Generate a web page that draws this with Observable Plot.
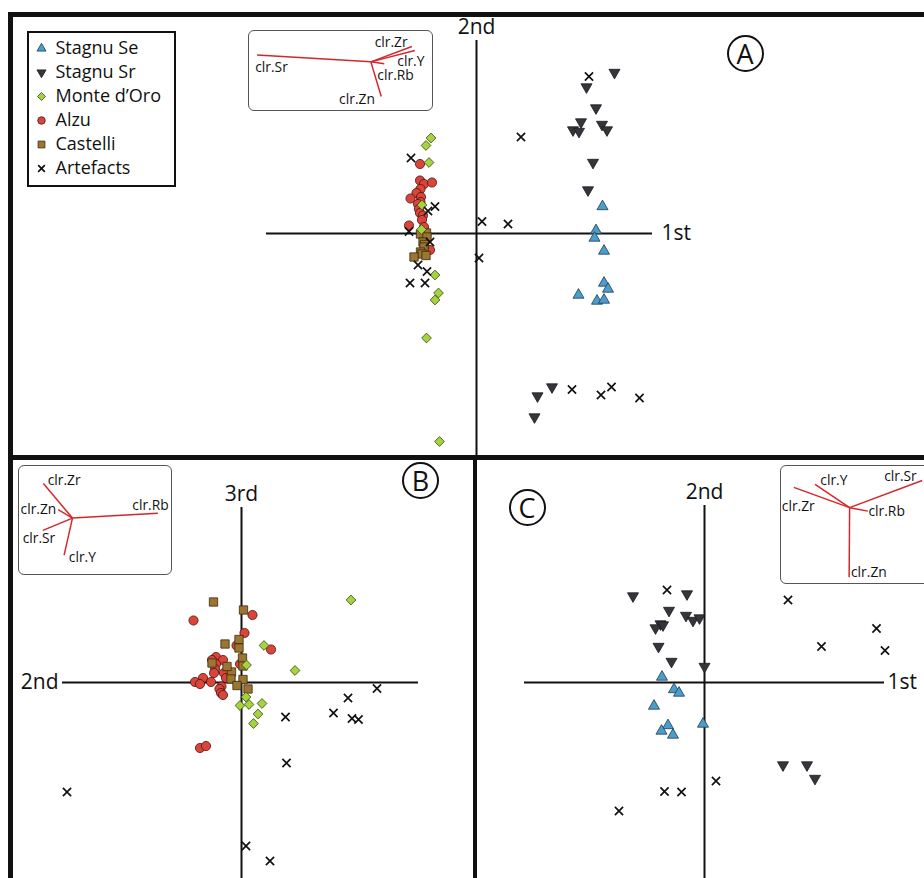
<!DOCTYPE html>
<html><head><meta charset="utf-8">
<script src="https://cdn.jsdelivr.net/npm/d3@7"></script>
<script src="https://cdn.jsdelivr.net/npm/@observablehq/plot@0.6"></script>
<style>
body{margin:0;background:#fff;}
#wrap{position:relative;width:924px;height:878px;overflow:hidden;background:#fff;font-family:"Open Sans",sans-serif;color:#111;}
.bar{position:absolute;background:#111;}
.circ{position:absolute;border:2px solid #111;border-radius:50%;box-sizing:border-box;text-align:center;font-size:27px;color:#111;}
.inset{position:absolute;border:1.3px solid #555;border-radius:6px;box-sizing:border-box;background:#fff;overflow:hidden;}
.legend{position:absolute;border:2px solid #111;box-sizing:border-box;background:#fff;}
svg{display:block;}
</style></head><body><div id="wrap"></div>
<script>
// ---------- data (component scores) ----------
const groupNames = ["Stagnu Se", "Stagnu Sr", "Monte d\u2019Oro", "Alzu", "Castelli", "Artefacts"];

// Panel A : 1st vs 2nd
const A_se = [[2.52,0.54],[2.39,0.06],[2.36,-0.09],[2.55,-0.35],[2.55,-0.99],[2.63,-1.11],[2.04,-1.23],[2.41,-1.35],[2.55,-1.33]];
const A_sr = [[2.76,3.22],[2.20,2.93],[2.39,2.51],[2.09,2.23],[1.93,2.07],[2.05,2.04],[2.51,2.18],[2.61,2.07],[2.33,1.42],[2.23,0.87],[1.51,-3.07],[1.22,-3.25],[1.16,-3.67]];
const A_monte = [[-0.91,1.91],[-1.01,1.76],[-0.95,1.42],[-1.09,0.57],[-1.10,0.08],[-0.83,-0.83],[-0.76,-1.19],[-0.83,-1.33],[-1.00,-2.09],[-0.74,-4.16]];
const A_alzu = [[-1.13,1.39],[-1.13,1.06],[-1.05,0.99],[-0.89,1.02],[-1.12,0.89],[-1.20,0.81],[-1.11,0.73],[-1.32,0.70],[-1.12,0.63],[-1.17,0.59],[-1.15,0.49],[-1.13,0.41],[-1.07,0.36],[-1.09,0.27],[-1.35,0.16],[-1.05,0.13],[-0.93,-0.33]];
const A_castelli = [[-1.00,0.01],[-1.12,-0.01],[-0.99,-0.07],[-1.07,-0.17],[-1.04,-0.22],[-1.05,-0.27],[-1.12,-0.37],[-1.09,-0.41],[-1.01,-0.44],[-1.25,-0.47]];
const A_art = [[-1.31,1.51],[-0.83,0.54],[-0.97,0.45],[-1.35,0.04],[-0.93,-0.17],[-1.17,-0.63],[-0.99,-0.76],[-1.33,-0.99],[-1.03,-0.99],[0.11,0.24],[0.05,-0.49],[0.89,1.93],[0.63,0.19],[2.25,3.14],[1.91,-3.12],[2.49,-3.23],[2.70,-3.07],[3.26,-3.29]];

// Panel B : 2nd vs 3rd
const B_monte = [[2.19,1.65],[0.45,0.74],[1.07,0.24],[0.10,0.35],[0.09,-0.29],[-0.03,-0.46],[0.15,-0.44],[0.41,-0.42],[0.33,-0.63],[0.24,-0.82]];
const B_alzu = [[-0.96,1.24],[0.22,1.35],[0.06,0.99],[-0.10,0.74],[0.59,0.66],[-0.51,0.51],[-0.59,0.45],[-0.37,0.45],[-0.51,0.37],[-0.03,0.37],[-0.53,0.27],[-0.35,0.19],[-0.55,0.19],[-0.31,0.09],[-0.77,0.09],[-0.93,0.01],[-0.83,-0.03],[-0.61,0.01],[-0.40,-0.08],[-0.44,-0.13],[-0.41,-0.21],[-0.37,-0.25],[-0.83,-1.31],[-0.71,-1.27]];
const B_castelli = [[-0.56,1.61],[0.04,1.45],[-0.33,0.77],[-0.05,0.86],[-0.05,0.69],[0.02,0.49],[0.03,0.33],[-0.20,0.21],[-0.29,0.32],[-0.21,0.07],[0.03,0.06],[-0.09,-0.06],[0.13,-0.13],[-0.59,0.39]];
const B_art = [[2.71,-0.12],[2.13,-0.31],[1.84,-0.61],[0.88,-0.69],[2.21,-0.72],[2.34,-0.74],[0.90,-1.61],[-3.49,-2.19],[0.09,-3.27],[0.57,-3.57]];

// Panel C : 1st vs 2nd (Stagnu sources)
const C_se = [[-0.85,0.11],[-0.61,-0.14],[-0.51,-0.21],[-1.01,-0.47],[-0.73,-0.86],[-0.86,-0.97],[-0.63,-1.05],[-0.03,-0.83]];
const C_sr = [[-1.43,1.73],[-0.35,1.77],[-0.71,1.44],[-0.37,1.34],[-0.23,1.24],[-0.10,1.29],[-0.88,1.17],[-0.98,1.09],[-0.83,1.15],[-0.92,0.72],[-0.66,0.42],[0.00,0.32],[1.57,-1.65],[2.05,-1.65],[2.21,-1.92]];
const C_art = [[-0.75,1.85],[1.67,1.65],[3.44,1.08],[2.34,0.72],[3.61,0.64],[0.23,-1.97],[-0.80,-2.18],[-0.46,-2.19],[-1.71,-2.57]];

// Biplot loadings (clr variables)
const loadNames = ["clr.Sr","clr.Zr","clr.Y","clr.Rb","clr.Zn"];
const A_load = [[-2.30,0.14],[0.83,0.31],[0.89,0.23],[0.27,-0.04],[0.21,-0.70]];
const A_labelAt = [[-2.01,-0.11],[0.41,0.40],[0.81,0.00],[0.50,-0.27],[-0.28,-0.77]];
const B_load = [[-0.60,-0.25],[-0.59,0.70],[-0.17,-0.75],[1.73,0.10],[-0.29,0.17]];
const B_labelAt = [[-0.68,-0.41],[-0.17,0.77],[0.20,-0.80],[1.58,0.25],[-0.69,0.18]];
const C_load = [[1.47,0.55],[-1.13,0.41],[-0.70,0.47],[0.37,-0.07],[-0.01,-1.41]];
const C_labelAt = [[1.03,0.62],[-1.04,0.02],[-0.32,0.55],[0.75,-0.07],[0.39,-1.31]];

const axisA = ["1st","2nd"], axisB = ["2nd","3rd"], axisC = ["1st","2nd"];
const panelLetters = ["A","B","C"];

// ---------- styles ----------
const triDown = {draw(ctx, size){ const y = -Math.sqrt(size/(Math.sqrt(3)*3)); ctx.moveTo(0,-2*y); ctx.lineTo(-Math.sqrt(3)*y, y); ctx.lineTo(Math.sqrt(3)*y, y); ctx.closePath(); }};
const styles = {
  "Stagnu Se": {symbol:"triangle", fill:"#4d9dcc", stroke:"#1e3a4f", strokeWidth:0.8, r:4.1},
  "Stagnu Sr": {symbol:triDown, fill:"#35353b", stroke:"#1c1c20", strokeWidth:0.8, r:4.1},
  "Monte d\u2019Oro": {symbol:"diamond2", fill:"#a5d33b", stroke:"#3a4519", strokeWidth:0.8, r:4.4},
  "Alzu": {symbol:"circle", fill:"#d9453a", stroke:"#4a1410", strokeWidth:0.8, r:4.6},
  "Castelli": {symbol:"square", fill:"#9b7531", stroke:"#3b2a0e", strokeWidth:0.8, r:4.7},
  "Artefacts": {symbol:"times", fill:"none", stroke:"#111", strokeWidth:1.7, r:3.8}
};
const toRows = arr => arr.map(([x,y]) => ({x,y}));
const dots = (arr, name) => Plot.dot(toRows(arr), {x:"x", y:"y", ...styles[name]});

const wrap = document.getElementById("wrap");
function put(el, l, t){ el.style.position="absolute"; el.style.left=l+"px"; el.style.top=t+"px"; wrap.appendChild(el); return el; }
const FONT = {background:"transparent", fontFamily:"Open Sans", overflow:"visible", color:"#111"};

function scatter(o){
  return Plot.plot({
    width:o.width, height:o.height, margin:0,
    x:{domain:o.xd, axis:null}, y:{domain:o.yd, axis:null},
    style:FONT,
    marks:[
      Plot.ruleY([0], {x1:o.hx[0], x2:o.hx[1], stroke:"#111", strokeWidth:2}),
      Plot.ruleX([0], {y1:o.vy[0], y2:o.vy[1], stroke:"#111", strokeWidth:2}),
      Plot.text([o.hName], {x:o.hLabelX, y:0, text:d=>d, textAnchor:o.hAnchor, dx:o.hdx, fontSize:21, fill:"#111"}),
      Plot.text([o.vName], {x:0, y:o.vy[0], text:d=>d, textAnchor:"middle", dy:-13, fontSize:21, fill:"#111"}),
      ...o.sets.map(([arr,name]) => dots(arr,name))
    ]
  });
}
function biplot(o){
  const rows = o.load.map(([x,y],i)=>({x,y,name:loadNames[i]}));
  const labs = o.labelAt.map(([x,y],i)=>({x,y,name:loadNames[i]}));
  return Plot.plot({
    width:o.width, height:o.height, margin:0,
    x:{domain:o.xd, axis:null}, y:{domain:o.yd, axis:null},
    style:FONT,
    marks:[
      Plot.link(rows, {x1:()=>0, y1:()=>0, x2:"x", y2:"y", stroke:"#d4262b", strokeWidth:1.5}),
      Plot.text(labs, {x:"x", y:"y", text:"name", fontSize:14, fill:"#111", style:"letter-spacing:-0.3px"})
    ]
  });
}

// ---------- panels ----------
put(scatter({width:912, height:440, xd:[-9.28,8.96], yd:[-4.46,4.34], hx:[-4.2,3.52], vy:[3.86,-4.46],
  hName:axisA[0], vName:axisA[1], hLabelX:3.52, hAnchor:"start", hdx:9,
  sets:[[A_alzu,"Alzu"],[A_castelli,"Castelli"],[A_monte,"Monte d\u2019Oro"],[A_se,"Stagnu Se"],[A_sr,"Stagnu Sr"],[A_art,"Artefacts"]]}), 12, 16);

put(scatter({width:460, height:418, xd:[-4.56,4.64], yd:[-3.92,4.44], hx:[-3.58,3.54], vy:[3.5,-3.92],
  hName:axisB[0], vName:axisB[1], hLabelX:-3.58, hAnchor:"end", hdx:-4,
  sets:[[B_alzu,"Alzu"],[B_castelli,"Castelli"],[B_monte,"Monte d\u2019Oro"],[B_art,"Artefacts"]]}), 13, 460);

put(scatter({width:447, height:418, xd:[-4.54,4.4], yd:[-3.92,4.44], hx:[-3.6,3.6], vy:[3.54,-3.92],
  hName:axisC[0], vName:axisC[1], hLabelX:3.6, hAnchor:"start", hdx:3,
  sets:[[C_se,"Stagnu Se"],[C_sr,"Stagnu Sr"],[C_art,"Artefacts"]]}), 477, 460);

// ---------- frame bars ----------
[[8,12,916,4.5],[8,12,4.5,866],[8,455,916,5],[472.5,455,4.5,423]].forEach(([l,t,w,h])=>{
  const d=document.createElement("div"); d.className="bar"; d.style.width=w+"px"; d.style.height=h+"px"; put(d,l,t);
});

// ---------- insets ----------
function inset(box, o){
  const d=document.createElement("div"); d.className="inset";
  d.style.width=box[2]+"px"; d.style.height=box[3]+"px";
  put(d, box[0], box[1]);
  const p = biplot(o); p.style.position="absolute"; p.style.left="-1.3px"; p.style.top="-1.3px";
  d.appendChild(p);
}
inset([248,30,185,81], {width:185, height:81, xd:[-2.474,1.226], yd:[-0.986,0.634], load:A_load, labelAt:A_labelAt});
inset([18,465,154,110], {width:154, height:110, xd:[-1.094,1.986], yd:[-1.134,1.066], load:B_load, labelAt:B_labelAt});
inset([780,465,160,119], {width:160, height:119, xd:[-1.4,1.8], yd:[-1.526,0.854], load:C_load, labelAt:C_labelAt});

// ---------- legend ----------
{
  const d=document.createElement("div"); d.className="legend"; d.style.width="149px"; d.style.height="156px"; put(d,27,31);
  const rows = groupNames.map(name=>({name}));
  const p = Plot.plot({
    width:145, height:152, margin:0,
    y:{type:"point", domain:groupNames, range:[13,137], padding:0, axis:null},
    style:FONT,
    marks:[
      ...groupNames.map(name=>Plot.dot([{name}], {y:"name", frameAnchor:"left", dx:12, ...styles[name], r:styles[name].r*0.82})),
      Plot.text(rows, {y:"name", text:"name", frameAnchor:"left", dx:26, textAnchor:"start", fontSize:18, fill:"#111"})
    ]
  });
  d.appendChild(p);
}

// ---------- circled panel letters ----------
[[panelLetters[0],745,53.5],[panelLetters[1],420.5,480],[panelLetters[2],527,507]].forEach(([t,cx,cy])=>{
  const d=document.createElement("div"); d.className="circ"; d.textContent=t;
  d.style.width="37px"; d.style.height="37px"; d.style.lineHeight="33px";
  put(d, cx-18.5, cy-18.5);
});
</script></body></html>
